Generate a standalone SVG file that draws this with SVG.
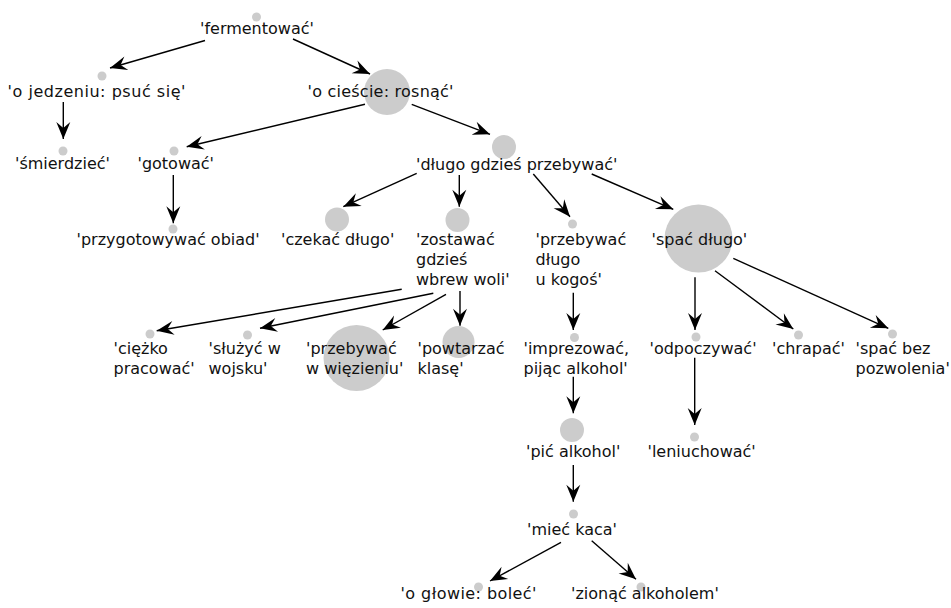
<svg xmlns="http://www.w3.org/2000/svg" width="951" height="608" viewBox="0 0 951 608">
<style>
  .n circle { fill: #cccccc; }
  .n text { font-family: "DejaVu Sans", Verdana, sans-serif; font-size: 16px; fill: #111; }
  .e line { stroke: #000; stroke-width: 1.4; marker-end: url(#arr); }
</style>
<defs>
  <marker id="arr" markerUnits="userSpaceOnUse" viewBox="-18 -8 19 16" refX="0" refY="0" markerWidth="19" markerHeight="16" orient="auto">
    <path d="M0,0 L-17,-7 L-11,0 L-17,7 Z" fill="#000"/>
  </marker>
</defs>
<rect width="951" height="608" fill="#fff"/>
<g id="connectors" class="e">
  <line x1="205" y1="40.5" x2="110" y2="68"/>
  <line x1="293" y1="39" x2="370" y2="74"/>
  <line x1="63.3" y1="102" x2="63.3" y2="139"/>
  <line x1="365" y1="104.3" x2="186.7" y2="146.7"/>
  <line x1="411.7" y1="104.3" x2="490" y2="134.3"/>
  <line x1="173.3" y1="175" x2="173.3" y2="223.3"/>
  <line x1="416.7" y1="173.3" x2="343.3" y2="206.7"/>
  <line x1="459.3" y1="175" x2="459.3" y2="206.7"/>
  <line x1="533.3" y1="174" x2="570" y2="216.7"/>
  <line x1="591.7" y1="174" x2="673.3" y2="209.3"/>
  <line x1="401.7" y1="289.3" x2="156.7" y2="330.7"/>
  <line x1="433.3" y1="293.3" x2="260" y2="328.3"/>
  <line x1="446" y1="294.3" x2="382.7" y2="330"/>
  <line x1="460" y1="291" x2="460" y2="325.7"/>
  <line x1="573.3" y1="292.7" x2="573.3" y2="330"/>
  <line x1="695" y1="277.3" x2="695" y2="330"/>
  <line x1="715" y1="270.7" x2="793.3" y2="329"/>
  <line x1="733.3" y1="258.3" x2="888.3" y2="328.3"/>
  <line x1="694.7" y1="357.7" x2="694.7" y2="425"/>
  <line x1="573.3" y1="376.7" x2="573.3" y2="413.3"/>
  <line x1="573.3" y1="465" x2="573.3" y2="501.7"/>
  <line x1="561" y1="542.3" x2="490" y2="581"/>
  <line x1="591.7" y1="540.7" x2="636" y2="579.3"/>
</g>
<g id="n-fermentowac" class="n"><circle cx="256.5" cy="17" r="4.5"/><text x="200" y="34">'fermentować'</text></g>
<g id="n-o-jedzeniu" class="n"><circle cx="102" cy="76" r="4.5"/><text x="7.5" y="97" textLength="178" lengthAdjust="spacing">'o jedzeniu: psuć się'</text></g>
<g id="n-o-ciescie" class="n"><circle cx="387" cy="92" r="23"/><text x="307.5" y="97" textLength="146" lengthAdjust="spacing">'o cieście: rosnąć'</text></g>
<g id="n-smierdziec" class="n"><circle cx="63" cy="151" r="4.5"/><text x="15" y="169">'śmierdzieć'</text></g>
<g id="n-gotowac" class="n"><circle cx="174" cy="151" r="4.5"/><text x="137.5" y="169">'gotować'</text></g>
<g id="n-dlugo" class="n"><circle cx="504" cy="147" r="12"/><text x="416" y="170">'długo gdzieś przebywać'</text></g>
<g id="n-przygotowywac" class="n"><circle cx="173" cy="229" r="4.5"/><text x="76.5" y="245">'przygotowywać obiad'</text></g>
<g id="n-czekac" class="n"><circle cx="337" cy="219.5" r="12"/><text x="281" y="245">'czekać długo'</text></g>
<g id="n-zostawac" class="n"><circle cx="457.5" cy="220" r="12"/><text x="416" y="245">'zostawać<tspan x="416" y="265">gdzieś</tspan><tspan x="416" y="285">wbrew woli'</tspan></text></g>
<g id="n-przebywac-u-kogos" class="n"><circle cx="572.5" cy="224" r="4.5"/><text x="535.5" y="245">'przebywać<tspan x="535.5" y="265">długo</tspan><tspan x="535.5" y="285">u kogoś'</tspan></text></g>
<g id="n-spac-dlugo" class="n"><circle cx="698.5" cy="238.5" r="34"/><text x="651.5" y="245">'spać długo'</text></g>
<g id="n-ciezko" class="n"><circle cx="150" cy="334" r="4.5"/><text x="113.5" y="354">'ciężko<tspan x="113.5" y="374">pracować'</tspan></text></g>
<g id="n-sluzyc" class="n"><circle cx="247.5" cy="335" r="4.5"/><text x="208.5" y="354">'służyć w<tspan x="208.5" y="374">wojsku'</tspan></text></g>
<g id="n-wiezienie" class="n"><circle cx="356.5" cy="358" r="33"/><text x="306" y="354">'przebywać<tspan x="306" y="374">w więzieniu'</tspan></text></g>
<g id="n-powtarzac" class="n"><circle cx="458.5" cy="342" r="16"/><text x="417.5" y="354">'powtarzać<tspan x="417.5" y="374">klasę'</tspan></text></g>
<g id="n-imprezowac" class="n"><circle cx="574.5" cy="337.5" r="4.5"/><text x="523.5" y="354">'imprezować,<tspan x="523.5" y="374">pijąc alkohol'</tspan></text></g>
<g id="n-odpoczywac" class="n"><circle cx="696" cy="337" r="4.5"/><text x="649.5" y="354">'odpoczywać'</text></g>
<g id="n-chrapac" class="n"><circle cx="798.5" cy="335" r="4.5"/><text x="772" y="354">'chrapać'</text></g>
<g id="n-spac-bez" class="n"><circle cx="892.5" cy="334" r="4.5"/><text x="855.5" y="354">'spać bez<tspan x="855.5" y="374">pozwolenia'</tspan></text></g>
<g id="n-pic" class="n"><circle cx="572" cy="430" r="12"/><text x="526" y="457">'pić alkohol'</text></g>
<g id="n-leniuchowac" class="n"><circle cx="694.5" cy="437" r="4.5"/><text x="647.5" y="457">'leniuchować'</text></g>
<g id="n-miec-kaca" class="n"><circle cx="573.5" cy="514" r="4.5"/><text x="527" y="535">'mieć kaca'</text></g>
<g id="n-o-glowie" class="n"><circle cx="478.5" cy="587" r="4.5"/><text x="400.5" y="599" textLength="136" lengthAdjust="spacing">'o głowie: boleć'</text></g>
<g id="n-zionac" class="n"><circle cx="641" cy="587" r="4.5"/><text x="571" y="599">'zionąć alkoholem'</text></g>
</svg>
